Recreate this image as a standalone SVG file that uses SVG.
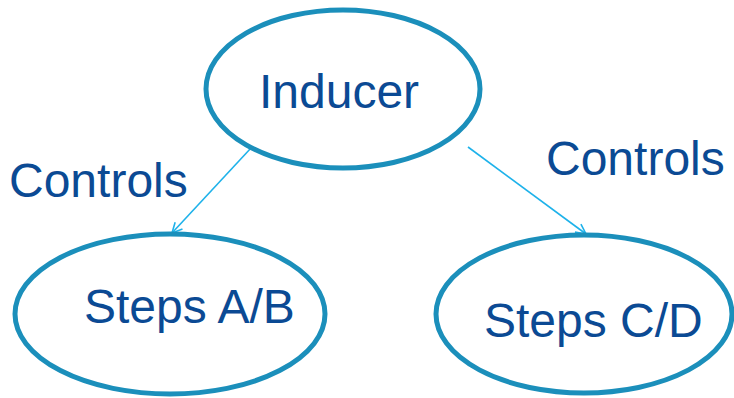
<svg xmlns="http://www.w3.org/2000/svg" width="734" height="398" viewBox="0 0 734 398">
  <style>
    .node { fill: #ffffff; stroke: #1b8fbb; stroke-width: 5; }
    .label { font-family: "Liberation Sans", Arial, sans-serif; font-size: 48px; fill: #0b4a94; }
    .edge { stroke: #1eb2ea; stroke-width: 1.6; fill: none; marker-end: url(#arrow); }
  </style>
  <defs>
    <marker id="arrow" viewBox="0 0 12 12" refX="11" refY="6" markerWidth="12" markerHeight="12" markerUnits="userSpaceOnUse" orient="auto">
      <path d="M1,1 L11,6 L1,11" fill="none" stroke="#1eb2ea" stroke-width="1.6"/>
    </marker>
  </defs>
  <rect width="734" height="398" fill="#ffffff"/>

  <g id="connectors">
    <line class="edge" x1="251" y1="148" x2="172" y2="233"/>
    <line class="edge" x1="468" y1="147" x2="586" y2="234"/>
    <text class="label" x="9" y="197">Controls</text>
    <text class="label" x="546" y="175">Controls</text>
  </g>

  <g id="inducer">
    <ellipse class="node" cx="343" cy="89" rx="137" ry="79"/>
    <text class="label" x="259" y="108">Inducer</text>
  </g>

  <g id="steps-ab">
    <ellipse class="node" cx="170" cy="314" rx="155" ry="80"/>
    <text class="label" x="84" y="323">Steps A/B</text>
  </g>

  <g id="steps-cd">
    <ellipse class="node" cx="584" cy="314" rx="148" ry="79"/>
    <text class="label" x="484" y="337">Steps C/D</text>
  </g>
</svg>
